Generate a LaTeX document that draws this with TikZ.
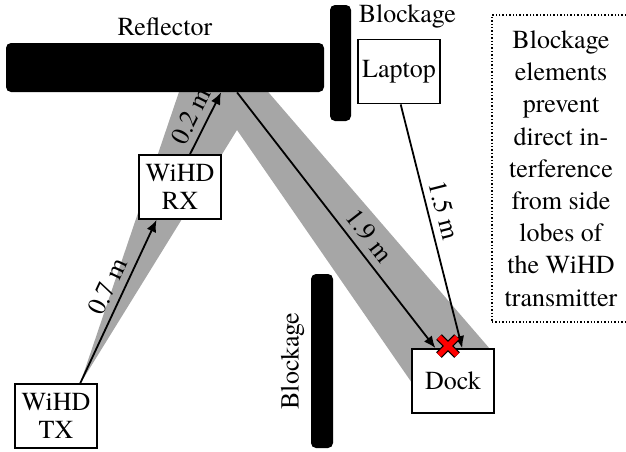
\documentclass[tikz,border=0pt]{standalone}
\usepackage{fontspec}
\setmainfont{texgyretermes}[Extension=.otf, UprightFont=*-regular,
  BoldFont=*-bold, ItalicFont=*-italic, BoldItalicFont=*-bolditalic]
\usetikzlibrary{arrows.meta, positioning, calc}

\begin{document}
\begin{tikzpicture}[
  x=0.5pt, y=-0.5pt,
  font=\fontsize{13}{14}\selectfont,
  device/.style={rectangle, draw=black, line width=0.9pt, fill=white,
    minimum width=41pt, minimum height=32pt, inner sep=0pt, align=center},
  wall/.style={rectangle, fill=black, rounded corners=2.5pt, inner sep=0pt},
  arr/.style={-{Latex[length=6pt, width=5pt]}, line width=0.9pt},
  lbl/.style={sloped, above},
  beam/.style={fill=gray!70},
  xmark/.style={line width=#1, line cap=butt},
]
\useasboundingbox (0,0) rectangle (626,451);
\clip (0,0) rectangle (626,451);

% Beam
\coordinate (apex) at (80,384);
\coordinate (notch) at (237,130);
\fill[beam] (apex) -- (181,86) -- (263,86) -- (490,349) -- (460,400)
  -- (412,383) -- (notch) -- cycle;

% Walls
\node[wall, minimum width=159pt, minimum height=24.5pt,
  label={[inner sep=3pt]above:Reflector}] (reflector) at (165,67.5) {};
\node[wall, minimum width=10.5pt, minimum height=58pt] (blocktop) at (340.5,63) {};
\node[wall, minimum width=11pt, minimum height=87pt] (blockbot) at (322,361) {};
\node[anchor=north west, inner sep=0pt] (blocktoplbl) at ($(blocktop.north east)+(7,0)$) {Blockage};
\node[rotate=90, anchor=south, inner sep=0pt] (blockbotlbl) at ($(blockbot.west)+(-6,0)$) {Blockage};

% Devices
\node[device] (tx) at (56,416) {WiHD\\TX};
\node[device] (rx) at (180,187) {WiHD\\RX};
\node[device] (laptop) at (399,71.5) {Laptop};
\node[device] (dock) at (453,381) {Dock};

% Note
\node[draw, densely dotted, line width=0.7pt, minimum width=69pt, minimum height=153.5pt,
  inner sep=0pt, align=center, font=\fontsize{13}{16.1}\selectfont] (note) at (561,168.5)
  {Blockage\\elements\\prevent\\direct in-\\terference\\from side\\lobes of\\the WiHD\\transmitter};

% Links
\draw[arr] ($(tx.north west)!0.79!(tx.north east)$) -- node[lbl, pos=0.55] {0.7 m}
  ($(rx.south west)!0.22!(rx.south east)$);
\draw[arr] ($(rx.north west)!0.62!(rx.north east)$) -- node[lbl] {0.2 m}
  ($(reflector.south west)!0.676!(reflector.south east)$);
\draw[arr] ($(reflector.south west)!0.726!(reflector.south east)$) -- node[lbl, pos=0.6] {1.9 m}
  ($(dock.north west)!0.29!(dock.north east)$);
\draw[arr] ($(laptop.south west)!0.52!(laptop.south east)$) -- node[lbl, pos=0.45] {1.5 m}
  ($(dock.north west)!0.61!(dock.north east)$);

% Interference mark
\coordinate (hit) at (448,346);
\draw[xmark=4pt, black] ($(hit)+(-9,-9)$) -- ($(hit)+(9,9)$) ($(hit)+(-9,9)$) -- ($(hit)+(9,-9)$);
\draw[xmark=2.8pt, red] ($(hit)+(-9,-9)$) -- ($(hit)+(9,9)$) ($(hit)+(-9,9)$) -- ($(hit)+(9,-9)$);

\end{tikzpicture}
\end{document}
